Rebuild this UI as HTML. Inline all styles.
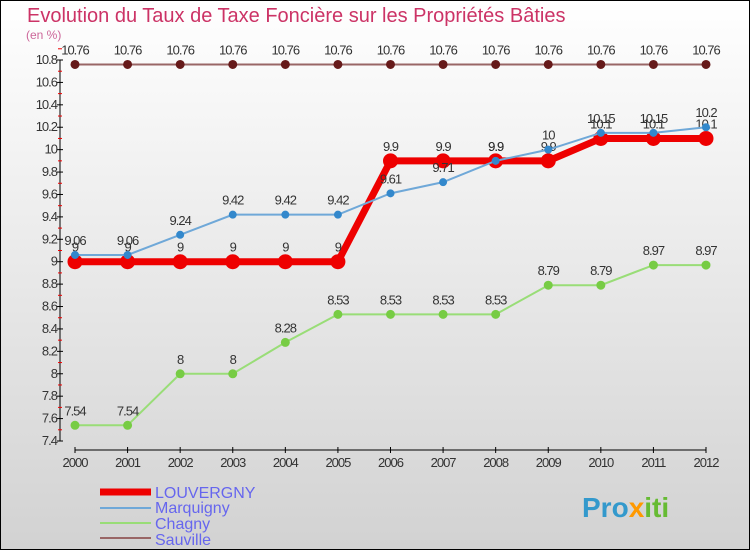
<!DOCTYPE html>
<html><head><meta charset="utf-8">
<style>
body{margin:0;width:750px;height:550px;overflow:hidden;font-family:"Liberation Sans",sans-serif}
svg{display:block}
</style></head><body>
<svg id="c" width="750" height="550" xmlns="http://www.w3.org/2000/svg">
<defs><linearGradient id="bg" x1="0" y1="0" x2="0" y2="1"><stop offset="0" stop-color="#ffffff"/><stop offset="1" stop-color="#d2d2d2"/></linearGradient></defs>
<rect x="0.5" y="0.5" width="749" height="549" fill="url(#bg)" stroke="#000"/>
<text x="27" y="22" font-size="20" fill="#cc3366">Evolution du Taux de Taxe Foncière sur les Propriétés Bâties</text>
<text x="26" y="39" font-size="12" fill="#cc6699">(en %)</text>
<g id="axes"></g><g id="series"></g>
<g>
<line x1="100" y1="492" x2="151" y2="492" stroke="#ee0000" stroke-width="7"/>
<text x="155" y="498" font-size="16" fill="#6666ee">LOUVERGNY</text>
<line x1="100" y1="508" x2="151" y2="508" stroke="#6fa8d8" stroke-width="2"/>
<text x="155" y="513" font-size="16" fill="#6666ee">Marquigny</text>
<line x1="100" y1="523" x2="151" y2="523" stroke="#99dd77" stroke-width="2"/>
<text x="155" y="529" font-size="16" fill="#6666ee">Chagny</text>
<line x1="100" y1="538" x2="151" y2="538" stroke="#996666" stroke-width="2"/>
<text x="155" y="545" font-size="16" fill="#6666ee">Sauville</text>
</g>
<text x="582" y="517" font-size="28" font-weight="bold" fill="#3399cc">Pro<tspan fill="#ff9900">x</tspan><tspan fill="#66bb33">iti</tspan></text>
</svg>
<script>
const years=["2000","2001","2002","2003","2004","2005","2006","2007","2008","2009","2010","2011","2012"];
const louvergny=[9,9,9,9,9,9,9.9,9.9,9.9,9.9,10.1,10.1,10.1];
const marquigny=[9.06,9.06,9.24,9.42,9.42,9.42,9.61,9.71,9.9,10,10.15,10.15,10.2];
const chagny=[7.54,7.54,8,8,8.28,8.53,8.53,8.53,8.53,8.79,8.79,8.97,8.97];
const sauville=[10.76,10.76,10.76,10.76,10.76,10.76,10.76,10.76,10.76,10.76,10.76,10.76,10.76];
const yTicks=[7.4,7.6,7.8,8,8.2,8.4,8.6,8.8,9,9.2,9.4,9.6,9.8,10,10.2,10.4,10.6,10.8];
const NS="http://www.w3.org/2000/svg";
const x=i=>75+i*(706-75)/(years.length-1);
const y=v=>441-(v-7.4)*(441-60)/(10.8-7.4);
function mk(p,t,a){const e=document.createElementNS(NS,t);for(const k in a)e.setAttribute(k,a[k]);p.appendChild(e);return e;}
const ax=document.getElementById('axes');
let yl=mk(ax,'line',{x1:60,y1:y(10.8),x2:60,y2:y(7.4),stroke:'#000'});


yTicks.forEach(v=>{
 mk(ax,'line',{x1:57,y1:y(v),x2:63,y2:y(v),stroke:'#000'});
 mk(ax,'line',{x1:58,y1:y(v+0.1),x2:62,y2:y(v+0.1),stroke:'#e00'});
 const t=mk(ax,'text',{x:57,y:y(v)+4,'font-size':13,'text-anchor':'end',fill:'#333','letter-spacing':'-1'});
 t.textContent=String(v);
 
 
});
let xl=mk(ax,'line',{x1:75,y1:450,x2:706,y2:450,stroke:'#000'});


years.forEach((yr,i)=>{
 mk(ax,'line',{x1:x(i),y1:447,x2:x(i),y2:453,stroke:'#000'});
 const t=mk(ax,'text',{x:x(i),y:467,'font-size':13,'text-anchor':'middle',fill:'#333','letter-spacing':'-1'});
 t.textContent=yr;
 
 
});
const sg=document.getElementById('series');
function series(name,vals,col,w,r,dot){
 const g=mk(sg,'g',{});
 
 
 mk(g,'polyline',{points:vals.map((v,i)=>x(i)+','+y(v)).join(' '),fill:'none',stroke:col,'stroke-width':w});
 vals.forEach((v,i)=>{
  const c=mk(g,'circle',{cx:x(i),cy:y(v),r:r,fill:dot,stroke:dot});
  
  
  const t=mk(g,'text',{x:x(i),y:y(v)-10,'font-size':13,'text-anchor':'middle',fill:'#333','letter-spacing':'-1'});
  t.textContent=String(v);
  
  
 });
}
series('sauville',sauville,'#996666',2,4,'#661a1a');
series('chagny',chagny,'#99dd77',2,4,'#77cc44');
series('louvergny',louvergny,'#ee0000',7,7,'#ee0000');
series('marquigny',marquigny,'#6fa8d8',2,3.5,'#3388cc');
</script>
</body></html>
